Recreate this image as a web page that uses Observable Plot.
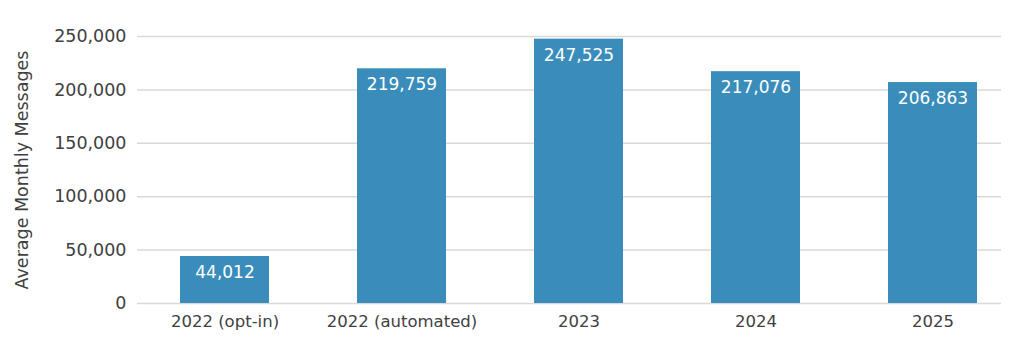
<!DOCTYPE html>
<html><head><meta charset="utf-8">
<script src="https://cdn.jsdelivr.net/npm/d3@7"></script>
<script src="https://cdn.jsdelivr.net/npm/@observablehq/plot@0.6"></script>
<style>body{margin:0;background:#fff}</style>
</head><body><div id="chart"></div>
<script>
const categories = ["2022 (opt-in)", "2022 (automated)", "2023", "2024", "2025"];
const values = [44012, 219759, 247525, 217076, 206863];
const yTicks = [0, 50000, 100000, 150000, 200000, 250000];
const yLabel = "Average Monthly Messages";
const data = categories.map((c, i) => ({category: c, value: values[i]}));
const fmt = d3.format(",");
const chart = Plot.plot({
  width: 1024, height: 347,
  marginLeft: 137, marginRight: 23, marginTop: 36, marginBottom: 44,
  style: {fontFamily: "DejaVu Sans", fontSize: "17px", color: "#404040", background: "#fff"},
  x: {domain: categories, range: [136, 1021], paddingInner: 0.5, paddingOuter: 0.25, label: null},
  y: {domain: [0, 250000], label: yLabel},
  marks: [
    Plot.ruleY(yTicks, {stroke: "#d9d9d9", strokeWidth: 1.5}),
    Plot.barY(data, {x: "category", y: "value", fill: "#3a8dbb"}),
    Plot.text(data, {x: "category", y: "value", text: d => fmt(d.value), dy: 16, fill: "white", fontSize: 17}),
    Plot.axisY({ticks: yTicks, tickFormat: fmt, tickSize: 0, tickPadding: 11, label: yLabel, labelAnchor: "center", labelArrow: "none", labelOffset: 122, fontSize: 17.5}),
    Plot.axisX({tickSize: 0, tickPadding: 12, fontSize: 16.5, label: null})
  ]
});
document.getElementById("chart").append(chart);
</script>
</body></html>
